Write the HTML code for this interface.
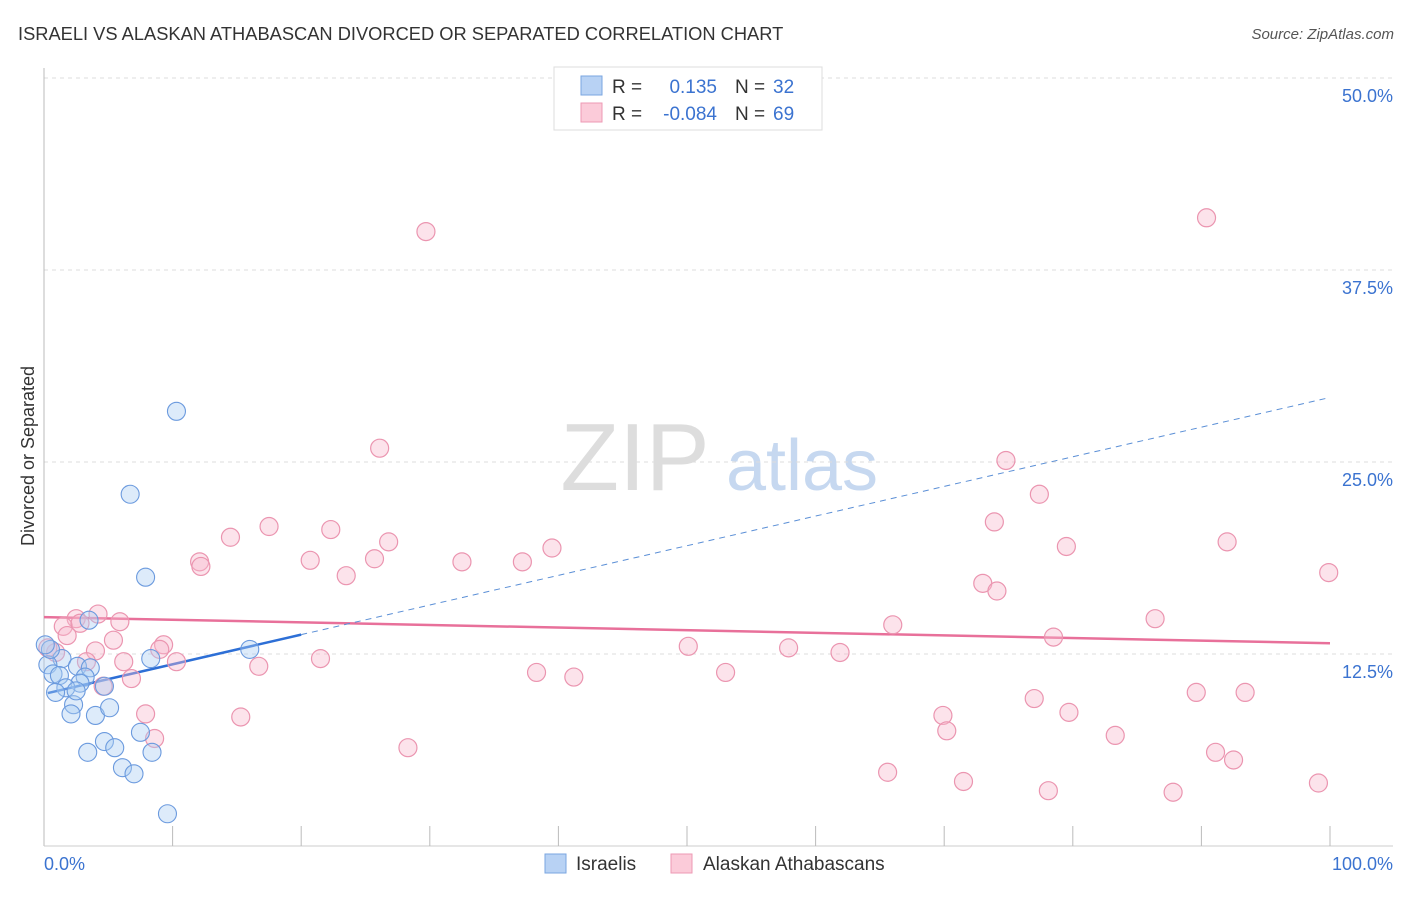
<!DOCTYPE html>
<html><head><meta charset="utf-8"><style>
body{margin:0;background:#fff;font-family:"Liberation Sans",sans-serif}
svg text{font-family:"Liberation Sans",sans-serif}
</style></head><body>
<svg id="c" width="1406" height="892" xmlns="http://www.w3.org/2000/svg">
<text x="18" y="40" font-size="18.3" fill="#333">ISRAELI VS ALASKAN ATHABASCAN DIVORCED OR SEPARATED CORRELATION CHART</text>
<text x="1394" y="39" font-size="15" fill="#555" font-style="italic" text-anchor="end">Source: ZipAtlas.com</text>
<text x="34" y="456" font-size="18" fill="#333" text-anchor="middle" transform="rotate(-90 34 456)">Divorced or Separated</text>
<g>
<text x="635" y="490" font-size="96" font-family="Liberation Serif,serif" fill="#ddd" text-anchor="middle">ZIP</text>
<text x="802" y="490" font-size="72" fill="#c6d8f0" text-anchor="middle">atlas</text>
</g>
<g id="grid"></g><g id="axes"></g><g id="trend"></g><g id="pts"></g>
<g>
<rect x="554" y="67" width="268" height="63" fill="#fff" stroke="#ddd"/>
<rect x="581" y="76" width="21" height="19" fill="#b8d2f4" stroke="#7aa6e0"/>
<rect x="581" y="103" width="21" height="19" fill="#fbcbd9" stroke="#ee9ab4"/>
<text x="612" y="93" font-size="19" fill="#333">R =</text><text x="717" y="93" font-size="19" fill="#3b73d0" text-anchor="end">0.135</text>
<text x="735" y="93" font-size="19" fill="#333">N =</text><text x="773" y="93" font-size="19" fill="#3b73d0">32</text>
<text x="612" y="120" font-size="19" fill="#333">R =</text><text x="717" y="120" font-size="19" fill="#3b73d0" text-anchor="end">-0.084</text>
<text x="735" y="120" font-size="19" fill="#333">N =</text><text x="773" y="120" font-size="19" fill="#3b73d0">69</text>
</g>
<g>
<rect x="545" y="854" width="21" height="19" fill="#b8d2f4" stroke="#7aa6e0"/>
<text x="576" y="870" font-size="19" fill="#333">Israelis</text>
<rect x="671" y="854" width="21" height="19" fill="#fbcbd9" stroke="#ee9ab4"/>
<text x="703" y="870" font-size="19" fill="#333">Alaskan Athabascans</text>
</g>
</svg>
<script>
const yTicks=[12.5,25,37.5,50];
const yTickLabels=["12.5%","25.0%","37.5%","50.0%"];
const xTickLabels=["0.0%","100.0%"];
const blueX=[10.3,6.7,7.9,16.0,8.3,1.4,0.3,2.6,3.6,0.7,1.2,3.2,2.8,1.7,0.9,4.7,2.3,2.1,4.0,5.1,7.5,4.7,5.5,3.4,8.4,6.1,7.0,9.6,3.5,0.5,0.1,2.5];
const blueY=[28.3,22.9,17.5,12.8,12.2,12.2,11.8,11.7,11.6,11.2,11.1,11.0,10.6,10.3,10.0,10.4,9.2,8.6,8.5,9.0,7.4,6.8,6.4,6.1,6.1,5.1,4.7,2.1,14.7,12.8,13.1,10.1];
const pinkX=[29.7,90.4,26.1,74.8,77.4,73.9,17.5,22.3,14.5,26.8,79.5,92.0,39.5,12.1,12.2,20.7,25.7,32.5,37.2,23.5,99.9,73.0,74.1,86.4,4.2,2.5,5.9,1.5,2.8,1.8,5.4,66.0,78.5,9.3,9.0,4.0,0.9,0.3,50.1,57.9,61.9,6.2,10.3,21.5,16.7,38.3,41.2,53.0,6.8,3.3,4.6,89.6,93.4,77.0,7.9,15.3,69.9,79.7,70.2,8.6,83.3,28.3,91.1,92.5,65.6,71.5,78.1,87.8,99.1];
const pinkY=[40.0,40.9,25.9,25.1,22.9,21.1,20.8,20.6,20.1,19.8,19.5,19.8,19.4,18.5,18.2,18.6,18.7,18.5,18.5,17.6,17.8,17.1,16.6,14.8,15.1,14.8,14.6,14.3,14.5,13.7,13.4,14.4,13.6,13.1,12.8,12.7,12.6,12.9,13.0,12.9,12.6,12.0,12.0,12.2,11.7,11.3,11.0,11.3,10.9,12.0,10.4,10.0,10.0,9.6,8.6,8.4,8.5,8.7,7.5,7.0,7.2,6.4,6.1,5.6,4.8,4.2,3.6,3.5,4.1];
const blueTrend=[9.9,0.193];
const pinkTrend=[14.9,-0.017];
const NS="http://www.w3.org/2000/svg";
const X=v=>44+v*12.86, Y=v=>846-v*15.36;
function mk(p,t,a){const e=document.createElementNS(NS,t);for(const k in a)e.setAttribute(k,a[k]);p.appendChild(e);return e;}
const grid=document.getElementById('grid'),axes=document.getElementById('axes');
yTicks.forEach((t,i)=>{
 const l=mk(grid,'line',{x1:44,x2:1393,y1:Y(t),y2:Y(t),stroke:'#ddd','stroke-dasharray':'4,4'});
 
 
 const tx=mk(grid,'text',{x:1393,y:Y(t)+24,'font-size':18,fill:'#3b73d0','text-anchor':'end'});
 tx.textContent=yTickLabels[i];
 
 
});
mk(axes,'line',{x1:44,x2:44,y1:68,y2:846,stroke:'#bbb'});
mk(axes,'line',{x1:44,x2:1393,y1:846,y2:846,stroke:'#ccc'});
for(let i=1;i<=10;i++){const tk=mk(axes,'line',{x1:X(i*10),x2:X(i*10),y1:826,y2:846,stroke:'#bbb'});
 
 }
const xl0=mk(axes,'text',{x:44,y:870,'font-size':18,fill:'#3b73d0'});xl0.textContent=xTickLabels[0];


const xl1=mk(axes,'text',{x:1393,y:870,'font-size':18,fill:'#3b73d0','text-anchor':'end'});xl1.textContent=xTickLabels[1];


const tr=document.getElementById('trend');
const pl=mk(tr,'line',{x1:X(0),y1:Y(pinkTrend[0]),x2:X(100),y2:Y(pinkTrend[0]+100*pinkTrend[1]),stroke:'#e8709a','stroke-width':2.5});


const bl=mk(tr,'line',{x1:X(0.3),y1:Y(blueTrend[0]+0.3*blueTrend[1]),x2:X(20),y2:Y(blueTrend[0]+20*blueTrend[1]),stroke:'#2d6fd6','stroke-width':2.5});


const bd=mk(tr,'line',{x1:X(20),y1:Y(blueTrend[0]+20*blueTrend[1]),x2:X(100),y2:Y(blueTrend[0]+100*blueTrend[1]),stroke:'#5b8fd6','stroke-width':1,'stroke-dasharray':'6,5'});


const pts=document.getElementById('pts');
pinkX.forEach((x,i)=>{const c=mk(pts,'circle',{cx:X(x),cy:Y(pinkY[i]),r:9,fill:'rgba(248,185,205,0.4)',stroke:'#eb95b0','stroke-width':1.2});
 
 });
blueX.forEach((x,i)=>{const c=mk(pts,'circle',{cx:X(x),cy:Y(blueY[i]),r:9,fill:'rgba(170,204,242,0.4)',stroke:'#6b9ade','stroke-width':1.1});
 
 });
</script>
</body></html>
